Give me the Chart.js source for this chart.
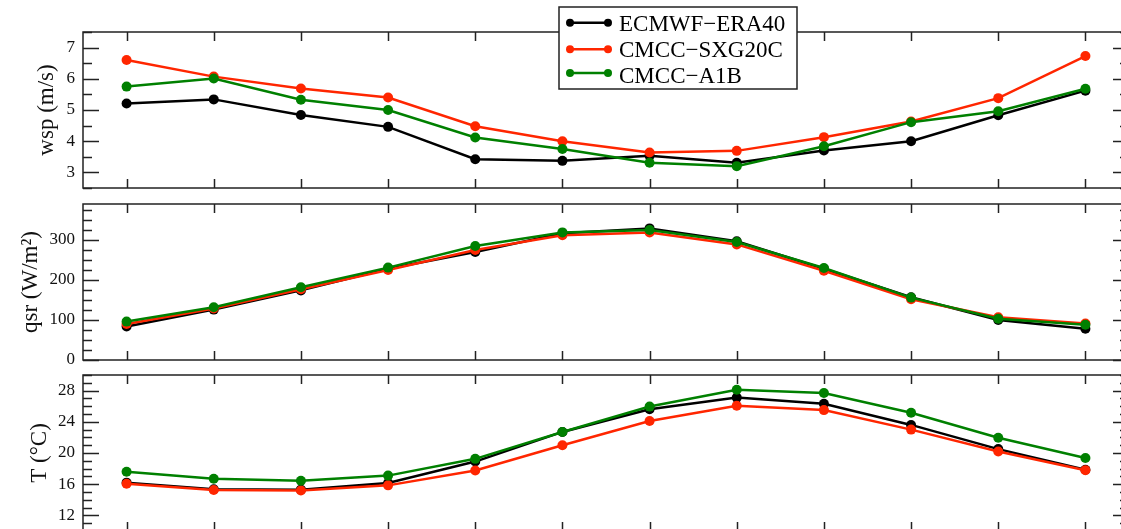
<!DOCTYPE html>
<html lang="en">

<head>
    <meta charset="UTF-8">
    <meta name="viewport" content="width=device-width, initial-scale=1.0">
    <title>wsp / qsr / T</title>
    <style>
        html, body { margin: 0; padding: 0; background: #fff; overflow: hidden; }
        #wrap { position: relative; width: 1121px; height: 529px; overflow: hidden; }
        #wrap canvas { position: absolute; left: 0; top: 0; }
    </style>
</head>

<body>
    <div id="wrap">
        <canvas id="wspChart" width="1140" height="560"></canvas>
        <canvas id="qsrChart" width="1140" height="560"></canvas>
        <canvas id="tChart" width="1140" height="560"></canvas>
    </div>

    <script src="https://cdn.jsdelivr.net/npm/chart.js"></script>
    <script>
        const months = ['Jan', 'Feb', 'Mar', 'Apr', 'May', 'Jun', 'Jul', 'Aug', 'Sep', 'Oct', 'Nov', 'Dec'];
        const seriesNames = ['ECMWF\u2212ERA40', 'CMCC\u2212SXG20C', 'CMCC\u2212A1B'];
        const seriesColors = ['#000000', '#ff2600', '#008000'];

        // wind speed (m/s)
        const wspEra = [5.21, 5.34, 4.84, 4.46, 3.42, 3.37, 3.53, 3.31, 3.70, 4.00, 4.83, 5.62];
        const wspSxg = [6.60, 6.07, 5.69, 5.40, 4.48, 4.00, 3.64, 3.69, 4.13, 4.63, 5.38, 6.73];
        const wspA1b = [5.75, 6.01, 5.33, 5.00, 4.12, 3.75, 3.31, 3.20, 3.84, 4.61, 4.96, 5.68];

        // short wave radiation (W/m2)
        const qsrEra = [84, 126, 174, 228, 270, 317, 329, 297, 228, 157, 100, 78];
        const qsrSxg = [90, 129, 177, 225, 275, 312, 319, 289, 223, 152, 107, 91];
        const qsrA1b = [96, 132, 182, 231, 285, 319, 325, 295, 230, 156, 103, 88];

        // air temperature (C)
        const tEra = [16.2, 15.35, 15.3, 16.15, 18.9, 22.7, 25.6, 27.1, 26.3, 23.6, 20.5, 17.85];
        const tSxg = [16.05, 15.25, 15.2, 15.85, 17.75, 21.0, 24.1, 26.05, 25.5, 23.0, 20.2, 17.8];
        const tA1b = [17.6, 16.7, 16.45, 17.1, 19.25, 22.7, 25.95, 28.1, 27.7, 25.15, 21.95, 19.35];

        const wspTicks = [3, 4, 5, 6, 7];
        const qsrTicks = [0, 100, 200, 300];
        const tTicks = [12, 16, 20, 24, 28];

        const frameColor = '#222';
        const serif = 'Liberation Serif';

        // box round the panel, with inward ticks on all sides
        const framePlugin = {
            id: 'frame',
            afterDatasetsDraw(chart, args, opts) {
                const { ctx, chartArea: a } = chart;
                const x = chart.scales.x, y = chart.scales.y;
                ctx.save();
                ctx.strokeStyle = frameColor;
                ctx.lineWidth = 1.5;
                ctx.beginPath();
                for (let i = 0; i < chart.data.labels.length; i++) {
                    const px = Math.round(x.getPixelForValue(i)) + 0.5;
                    ctx.moveTo(px, a.top); ctx.lineTo(px, a.top + 9);
                    ctx.moveTo(px, a.bottom); ctx.lineTo(px, a.bottom - 9);
                }
                const n0 = Math.ceil(y.min / opts.minor - 1e-9);
                for (let n = n0; n * opts.minor <= y.max + 1e-9; n++) {
                    const v = n * opts.minor;
                    const py = Math.round(y.getPixelForValue(v)) + 0.5;
                    const r = v / opts.major;
                    const len = Math.abs(r - Math.round(r)) < 1e-6 ? 16 : 9;
                    ctx.moveTo(a.left, py); ctx.lineTo(a.left + len, py);
                    ctx.moveTo(a.right, py); ctx.lineTo(a.right - len, py);
                }
                ctx.stroke();
                ctx.strokeRect(a.left, a.top, a.right - a.left, a.bottom - a.top);
                ctx.restore();
            }
        };

        // framed legend sitting over the top edge of the first panel
        const boxLegendPlugin = {
            id: 'boxLegend',
            afterDraw(chart, args, opts) {
                if (!opts || !opts.show) return;
                const ctx = chart.ctx;
                ctx.save();
                ctx.fillStyle = '#fff';
                ctx.fillRect(opts.x, opts.y, opts.w, opts.h);
                ctx.strokeStyle = frameColor;
                ctx.lineWidth = 1.5;
                ctx.strokeRect(opts.x, opts.y, opts.w, opts.h);
                ctx.font = opts.fontSize + 'px "' + serif + '"';
                ctx.textBaseline = 'alphabetic';
                ctx.textAlign = 'left';
                chart.data.datasets.forEach((ds, i) => {
                    const my = opts.markY[i];
                    ctx.strokeStyle = ds.borderColor;
                    ctx.fillStyle = ds.borderColor;
                    ctx.lineWidth = 2.5;
                    ctx.beginPath();
                    ctx.moveTo(opts.x1, my); ctx.lineTo(opts.x2, my);
                    ctx.stroke();
                    [opts.x1, opts.x2].forEach(px => {
                        ctx.beginPath();
                        ctx.arc(px, my, 4, 0, Math.PI * 2);
                        ctx.fill();
                    });
                    ctx.fillStyle = '#000';
                    ctx.fillText(ds.label, opts.textX, opts.textY[i]);
                });
                ctx.restore();
            }
        };

        function makePanel(id, series, cfg) {
            return new Chart(document.getElementById(id), {
                type: 'line',
                data: {
                    labels: months,
                    datasets: series.map((vals, i) => ({
                        label: seriesNames[i],
                        data: vals,
                        borderColor: seriesColors[i],
                        backgroundColor: seriesColors[i],
                        borderWidth: 2.5,
                        pointRadius: 5,
                        pointBorderWidth: 0,
                        tension: 0,
                        order: 2 - i
                    }))
                },
                options: {
                    responsive: false,
                    animation: false,
                    events: [],
                    layout: { padding: cfg.padding },
                    plugins: {
                        legend: { display: false },
                        tooltip: { enabled: false },
                        frame: { major: cfg.major, minor: cfg.minor },
                        boxLegend: cfg.legend || { show: false }
                    },
                    scales: {
                        x: { display: false, offset: true },
                        y: {
                            min: cfg.min,
                            max: cfg.max,
                            afterBuildTicks: s => { s.ticks = cfg.ticks.map(v => ({ value: v })); },
                            afterFit: s => { s.width = 83; },
                            grid: { display: false, drawTicks: false },
                            border: { display: false },
                            ticks: { padding: 8, color: '#111', font: { family: serif, size: 17 } },
                            title: {
                                display: true,
                                text: cfg.title,
                                color: '#111',
                                font: { family: serif, size: 23 },
                                padding: { top: cfg.titlePad, bottom: 0 }
                            }
                        }
                    }
                },
                plugins: [framePlugin, boxLegendPlugin]
            });
        }

        const wspChart = makePanel('wspChart', [wspEra, wspSxg, wspA1b], {
            min: 2.5, max: 7.5, ticks: wspTicks, major: 1, minor: 0.5,
            title: 'wsp (m/s)', titlePad: 33,
            padding: { top: 32, bottom: 372, left: 0, right: 11 },
            legend: {
                show: true, x: 559, y: 7, w: 238, h: 82,
                x1: 570, x2: 608, textX: 619, fontSize: 23,
                markY: [22.7, 49.3, 73], textY: [31, 57.3, 83.3]
            }
        });

        const qsrChart = makePanel('qsrChart', [qsrEra, qsrSxg, qsrA1b], {
            min: 0, max: 390, ticks: qsrTicks, major: 100, minor: 25,
            title: 'qsr (W/m\u00b2)', titlePad: 17,
            padding: { top: 204, bottom: 200, left: 0, right: 11 }
        });

        const tChart = makePanel('tChart', [tEra, tSxg, tA1b], {
            min: 10, max: 30, ticks: tTicks, major: 4, minor: 1,
            title: 'T (\u00b0C)', titlePad: 26,
            padding: { top: 375, bottom: 29, left: 0, right: 11 }
        });
    </script>
</body>

</html>
